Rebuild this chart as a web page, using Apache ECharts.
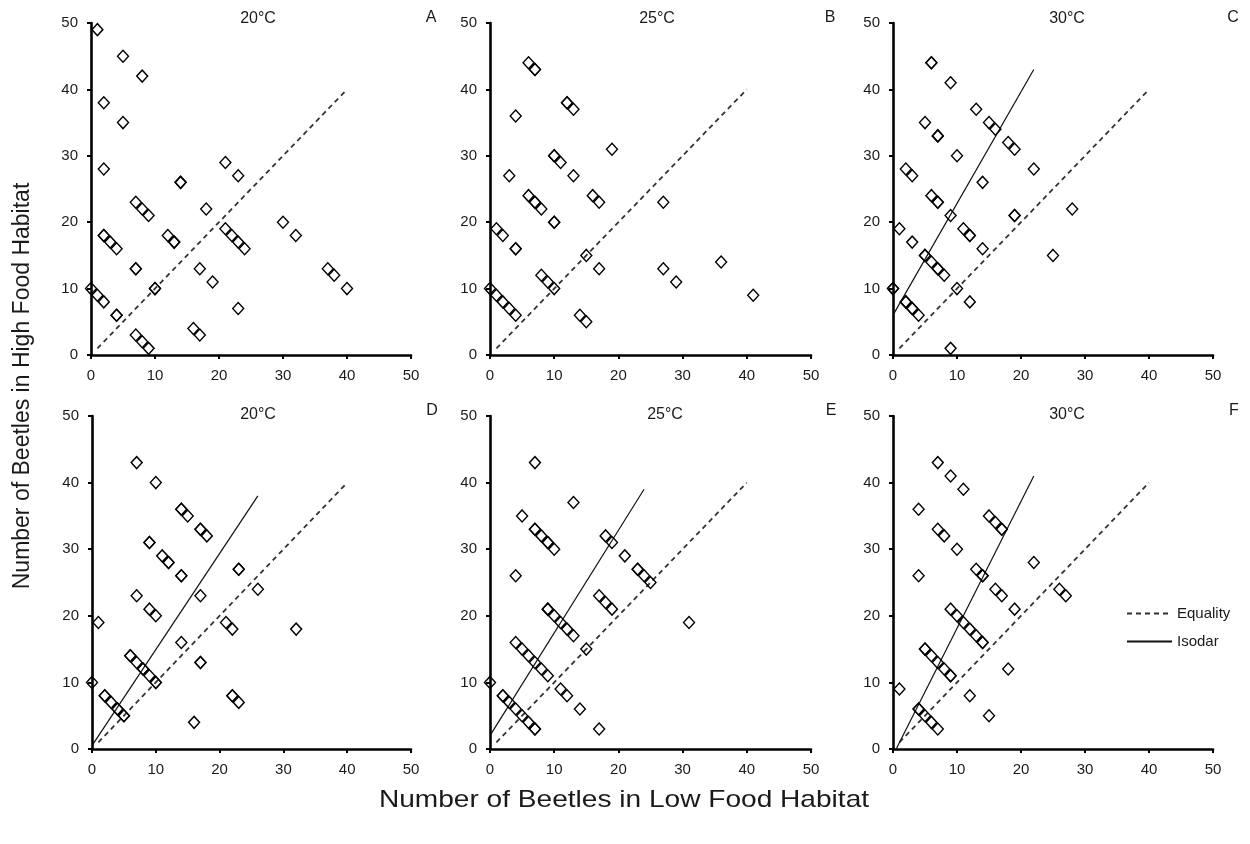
<!DOCTYPE html>
<html>
<head>
<meta charset="utf-8">
<script src="https://cdn.jsdelivr.net/npm/echarts@6/dist/echarts.min.js"></script>
<style>
  html, body { margin: 0; padding: 0; background: #fff; }
  #chart { width: 1250px; height: 844px; }
</style>
</head>
<body>
<div id="chart"></div>
<script>
// ---------------- data ----------------
const axisTicks = [0, 10, 20, 30, 40, 50];
const panelLetters = ['A', 'B', 'C', 'D', 'E', 'F'];
const panelTemps = ['20°C', '25°C', '30°C', '20°C', '25°C', '30°C'];
const legendNames = ['Equality', 'Isodar'];

// [low food, high food]; duplicated entries are overlapping observations
const panelA = [[1,49],[5,45],[8,42],[2,38],[5,35],[2,28],[14,26],[14,26],[21,29],[23,27],
  [7,23],[8,22],[9,21],[18,22],[2,18],[2,18],[3,17],[4,16],[12,18],[13,17],[13,17],
  [21,19],[22,18],[23,17],[24,16],[30,20],[32,18],[37,13],[38,12],[40,10],[7,13],[7,13],
  [17,13],[19,11],[10,10],[10,10],[0,10],[1,9],[2,8],[4,6],[4,6],[23,7],[16,4],[17,3],
  [7,3],[8,2],[9,1]];
const panelB = [[6,44],[7,43],[7,43],[12,38],[12,38],[13,37],[4,36],[19,31],[10,30],[10,30],
  [11,29],[13,27],[3,27],[6,24],[7,23],[7,23],[8,22],[16,24],[17,23],[27,23],[10,20],[10,20],
  [1,19],[2,18],[4,16],[4,16],[15,15],[17,13],[27,13],[29,11],[36,14],[41,9],[8,12],[9,11],
  [10,10],[0,10],[1,9],[2,8],[3,7],[4,6],[14,6],[15,5]];
const panelC = [[6,44],[6,44],[9,41],[13,37],[5,35],[7,33],[7,33],[15,35],[16,34],[18,32],
  [19,31],[10,30],[2,28],[3,27],[22,28],[14,26],[6,24],[7,23],[7,23],[19,21],[19,21],[28,22],
  [9,21],[1,19],[11,19],[12,18],[12,18],[3,17],[14,16],[5,15],[5,15],[6,14],[7,13],[7,13],
  [8,12],[25,15],[10,10],[0,10],[0,10],[12,8],[2,8],[2,8],[3,7],[3,7],[4,6],[9,1]];
const panelD = [[7,43],[10,40],[14,36],[14,36],[15,35],[17,33],[17,33],[18,32],[9,31],[9,31],
  [11,29],[12,28],[12,28],[14,26],[14,26],[23,27],[23,27],[26,24],[7,23],[17,23],[9,21],
  [10,20],[1,19],[21,19],[22,18],[32,18],[14,16],[6,14],[6,14],[7,13],[8,12],[8,12],[9,11],
  [10,10],[10,10],[17,13],[17,13],[0,10],[2,8],[2,8],[3,7],[4,6],[4,6],[5,5],[5,5],[22,8],
  [22,8],[23,7],[16,4]];
const panelE = [[7,43],[13,37],[5,35],[7,33],[7,33],[8,32],[9,31],[9,31],[10,30],[4,26],
  [18,32],[19,31],[21,29],[23,27],[23,27],[24,26],[25,25],[17,23],[18,22],[19,21],[9,21],
  [9,21],[10,20],[11,19],[12,18],[13,17],[31,19],[15,15],[4,16],[5,15],[6,14],[7,13],[8,12],
  [9,11],[11,9],[12,8],[14,6],[17,3],[0,10],[2,8],[2,8],[3,7],[4,6],[5,5],[6,4],[7,3],[7,3]];
const panelF = [[7,43],[9,41],[11,39],[4,36],[7,33],[8,32],[10,30],[15,35],[16,34],[17,33],
  [17,33],[4,26],[13,27],[14,26],[14,26],[22,28],[16,24],[17,23],[19,21],[26,24],[27,23],
  [9,21],[10,20],[11,19],[12,18],[13,17],[14,16],[14,16],[5,15],[5,15],[6,14],[7,13],[8,12],
  [9,11],[9,11],[18,12],[1,9],[12,8],[15,5],[4,6],[4,6],[5,5],[6,4],[7,3]];
const panels = [panelA, panelB, panelC, panelD, panelE, panelF];

const equalityLine = [[1,1],[40,40]];
// isodar endpoints per panel (null = no isodar drawn)
const isodarLines = [null, null, [[0,6],[22,43]], [[0,0.5],[26,38]], [[0,2],[24,39]], [[0.5,0],[22,41]]];

// ---------------- layout ----------------
const gridBoxes = [
  {left: 91,  top: 23,  width: 320, height: 332},
  {left: 490, top: 23,  width: 321, height: 332},
  {left: 893, top: 23,  width: 320, height: 332},
  {left: 92,  top: 416, width: 319, height: 333},
  {left: 490, top: 416, width: 321, height: 333},
  {left: 893, top: 416, width: 320, height: 333}
];
const tempPos = [[258,19],[657,19],[1067,19],[258,415],[665,415],[1067,415]];
const letterPos = [[431,18],[830,18],[1233,18],[432,411],[831,411],[1234,411]];

const FONT = '"Liberation Sans", Arial, Helvetica, sans-serif';
const TXT = '#1a1a1a';

function axisCommon() {
  return {
    type: 'value', min: axisTicks[0], max: axisTicks[axisTicks.length - 1],
    interval: axisTicks[1] - axisTicks[0],
    axisLine: {show: true, onZero: false, lineStyle: {color: '#000', width: 2.6}},
    axisTick: {show: true, length: 4, lineStyle: {color: '#000', width: 2}},
    axisLabel: {color: TXT, fontSize: 15, fontFamily: FONT, margin: 13},
    splitLine: {show: false}
  };
}

const grid = gridBoxes.map(b => Object.assign({containLabel: false}, b));
const xAxis = gridBoxes.map((b, i) => Object.assign(axisCommon(), {gridIndex: i}));
const yAxis = gridBoxes.map((b, i) => Object.assign(axisCommon(), {gridIndex: i}));

const series = [];
panels.forEach((pts, i) => {
  series.push({
    type: 'line', name: 'Equality', xAxisIndex: i, yAxisIndex: i,
    data: equalityLine, symbol: 'none', silent: true, z: 1, color: '#333',
    lineStyle: {color: '#333', width: 1.8, type: [5, 4]}
  });
  if (isodarLines[i]) {
    series.push({
      type: 'line', name: 'Isodar', xAxisIndex: i, yAxisIndex: i,
      data: isodarLines[i], symbol: 'none', silent: true, z: 1, color: '#111',
      lineStyle: {color: '#111', width: 1.2, type: 'solid'}
    });
  }
  series.push({
    type: 'scatter', name: 'panel' + panelLetters[i], xAxisIndex: i, yAxisIndex: i,
    data: pts, symbol: 'diamond', symbolSize: [11, 12], silent: true, z: 3,
    itemStyle: {color: 'rgba(255,255,255,0)', borderColor: '#000', borderWidth: 1.4, opacity: 1},
    emphasis: {disabled: true}
  });
});

const graphic = [];
panelTemps.forEach((t, i) => {
  graphic.push({type: 'text', x: tempPos[i][0], y: tempPos[i][1], silent: true,
    style: {text: t, fill: TXT, font: '16px ' + FONT, align: 'center', verticalAlign: 'middle'}});
  graphic.push({type: 'text', x: letterPos[i][0], y: letterPos[i][1], silent: true,
    style: {text: panelLetters[i], fill: TXT, font: '16px ' + FONT, align: 'center', verticalAlign: 'middle'}});
});
graphic.push({type: 'text', x: 624, y: 800, scaleX: 1.17, silent: true,
  style: {text: 'Number of Beetles in Low Food Habitat', fill: TXT, font: '24px ' + FONT,
    align: 'center', verticalAlign: 'middle'}});
graphic.push({type: 'text', x: 23, y: 386, rotation: Math.PI / 2, silent: true,
  style: {text: 'Number of Beetles in High Food Habitat', fill: TXT, font: '23px ' + FONT,
    align: 'center', verticalAlign: 'middle'}});

const option = {
  backgroundColor: '#fff',
  animation: false,
  grid, xAxis, yAxis, series, graphic,
  legend: {
    data: legendNames,
    orient: 'vertical', left: 1121, top: 601,
    itemWidth: 45, itemHeight: 14, itemGap: 13, selectedMode: false,
    itemStyle: {opacity: 0},
    textStyle: {color: TXT, fontSize: 15, fontFamily: FONT}
  }
};

const chart = echarts.init(document.getElementById('chart'), null, {renderer: 'canvas'});
chart.setOption(option);
</script>
</body>
</html>
